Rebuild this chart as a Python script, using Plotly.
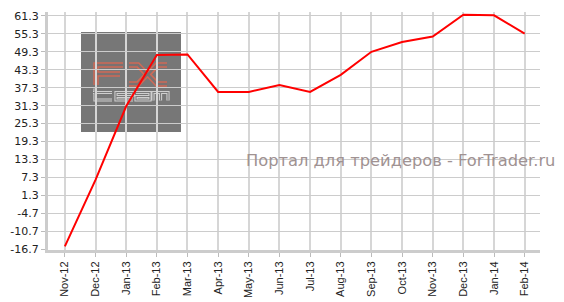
import plotly.graph_objects as go

months = ["Nov-12", "Dec-12", "Jan-13", "Feb-13", "Mar-13", "Apr-13", "May-13", "Jun-13",
          "Jul-13", "Aug-13", "Sep-13", "Oct-13", "Nov-13", "Dec-13", "Jan-14", "Feb-14"]
values = [-15.7, 6.5, 31.1, 48.2, 48.4, 35.9, 35.9, 38.2,
          35.9, 41.6, 49.3, 52.6, 54.4, 61.7, 61.5, 55.4]
ytick_vals = [61.3, 55.3, 49.3, 43.3, 37.3, 31.3, 25.3, 19.3, 13.3, 7.3, 1.3, -4.7, -10.7, -16.7]
ytick_text = ["61.3", "55.3", "49.3", "43.3", "37.3", "31.3", "25.3", "19.3", "13.3", "7.3",
              "1.3", "-4.7", "-10.7", "-16.7"]

L, R, T, B = 48, 24, 12, 52
W, H = 564, 302
PW, PH = W - L - R, H - T - B


def px(x, y):
    return (x - L) / PW, (H - B - y) / PH


def path(points):
    parts = []
    for seg in points:
        s = ""
        for i, (x, y) in enumerate(seg):
            a, b = px(x, y)
            s += ("M" if i == 0 else "L") + f"{a:.4f},{b:.4f} "
        parts.append(s)
    return " ".join(parts)


# logo decoration (FX team), pixel outlines
fx_segments = [
    [(96, 85), (96, 65), (123, 65)],
    [(96, 74), (120, 74)],
    [(129, 65), (138, 65), (147, 74.5), (138, 84), (129, 84)],
    [(167, 65), (157, 65), (148, 74.5), (157, 84), (167, 84)],
]
team_segments = [
    [(95, 88.5), (95, 100), (112, 100)],
    [(93, 92.5), (112, 92.5)],
    [(133, 96.5), (133, 92.5), (116, 92.5), (116, 100), (133, 100)],
    [(116, 96.5), (133, 96.5)],
    [(136, 92.5), (150, 92.5), (150, 100), (136, 100), (136, 96.5), (150, 96.5)],
    [(153, 100.5), (153, 92.5), (168, 92.5), (168, 100.5)],
    [(160.5, 92.5), (160.5, 100.5)],
]
fx_path = path(fx_segments)
team_path = path(team_segments)

shapes = [
    dict(type="rect", xref="paper", yref="paper", x0=px(81, 0)[0], x1=px(181, 0)[0],
         y0=px(0, 132)[1], y1=px(0, 32)[1], fillcolor="#777777", line=dict(width=0),
         layer="below"),
    dict(type="path", xref="paper", yref="paper", path=fx_path, layer="below",
         line=dict(color="#cf6a57", width=5.5)),
    dict(type="path", xref="paper", yref="paper", path=fx_path, layer="below",
         line=dict(color="#7a7272", width=2.5)),
    dict(type="path", xref="paper", yref="paper", path=team_path, layer="below",
         line=dict(color="#cfcfcf", width=3.2)),
    dict(type="path", xref="paper", yref="paper", path=team_path, layer="below",
         line=dict(color="#7a7a7a", width=1.1)),
]

fig = go.Figure()
fig.add_trace(go.Scatter(
    x=list(range(len(months))), y=values, mode="lines",
    line=dict(color="#ff0000", width=2), hoverinfo="skip", showlegend=False))

fig.update_layout(
    width=W, height=H,
    margin=dict(l=L, r=R, t=T, b=B),
    paper_bgcolor="white", plot_bgcolor="white",
    xaxis=dict(
        range=[-0.55, 15.5], tickmode="array", tickvals=list(range(len(months))),
        ticktext=months, tickangle=-90, showgrid=True, gridcolor="#d6d6d6", gridwidth=1.5,
        showline=True, linecolor="#cccccc", linewidth=3, ticks="outside", ticklen=4,
        tickcolor="#bbbbbb", zeroline=False, automargin=False,
        tickfont=dict(family="Liberation Sans, Arial", size=11, color="#222222")),
    yaxis=dict(
        range=[-16.93, 62.6], tickmode="array", tickvals=ytick_vals, ticktext=ytick_text,
        showgrid=True, gridcolor="#cccccc", gridwidth=1, showline=True,
        linecolor="#cccccc", linewidth=3, ticks="outside", ticklen=4, tickcolor="#bbbbbb",
        zeroline=False, automargin=False,
        tickfont=dict(family="DejaVu Sans, Verdana", size=11, color="#222222")),
    shapes=shapes,
    annotations=[
        dict(xref="paper", yref="paper", x=px(557, 0)[0], y=px(0, 160)[1],
             text="Портал для трейдеров - ForTrader.ru",
             showarrow=False, xanchor="right", yanchor="middle",
             font=dict(family="DejaVu Sans, Verdana", size=16.3, color="#a09292")),
    ],
)

fig.write_html("out.html")
